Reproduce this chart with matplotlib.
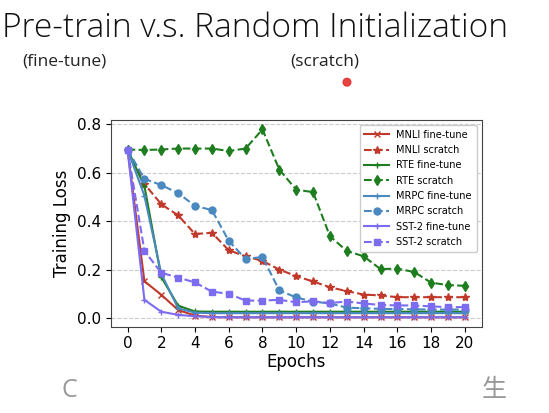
import matplotlib
matplotlib.use("Agg")
import matplotlib.pyplot as plt
from matplotlib.patches import Ellipse

epochs = list(range(21))

mnli_ft = [0.696, 0.152, 0.096, 0.033, 0.010, 0.004, 0.003, 0.003, 0.003, 0.003, 0.003,
           0.003, 0.003, 0.003, 0.003, 0.003, 0.003, 0.003, 0.003, 0.003, 0.003]
mnli_sc = [0.696, 0.554, 0.470, 0.424, 0.347, 0.352, 0.280, 0.255, 0.236, 0.200, 0.173,
           0.151, 0.127, 0.111, 0.097, 0.093, 0.086, 0.086, 0.086, 0.086, 0.086]
rte_ft = [0.696, 0.545, 0.169, 0.051, 0.027, 0.026, 0.026, 0.026, 0.026, 0.026, 0.026,
          0.026, 0.026, 0.026, 0.026, 0.026, 0.026, 0.026, 0.026, 0.026, 0.026]
rte_sc = [0.696, 0.694, 0.696, 0.700, 0.700, 0.700, 0.690, 0.700, 0.779, 0.613, 0.530,
          0.520, 0.338, 0.277, 0.255, 0.202, 0.204, 0.190, 0.146, 0.136, 0.133]
mrpc_ft = [0.696, 0.505, 0.183, 0.040, 0.022, 0.020, 0.020, 0.020, 0.020, 0.020, 0.020,
           0.020, 0.020, 0.020, 0.020, 0.020, 0.020, 0.020, 0.020, 0.020, 0.020]
mrpc_sc = [0.696, 0.575, 0.549, 0.516, 0.463, 0.446, 0.319, 0.244, 0.252, 0.114, 0.085,
           0.068, 0.060, 0.043, 0.040, 0.038, 0.037, 0.036, 0.035, 0.035, 0.035]
sst_ft = [0.696, 0.075, 0.026, 0.013, 0.007, 0.004, 0.003, 0.003, 0.003, 0.003, 0.003,
          0.003, 0.003, 0.003, 0.003, 0.003, 0.003, 0.003, 0.003, 0.003, 0.003]
sst_sc = [0.696, 0.277, 0.187, 0.167, 0.147, 0.109, 0.100, 0.072, 0.072, 0.075, 0.065,
          0.069, 0.062, 0.068, 0.060, 0.054, 0.052, 0.052, 0.048, 0.045, 0.045]

red = "#c0392b"
green = "#1e7d1e"
blue = "#4a88c0"
purple = "#7b6cf0"

fig = plt.figure(figsize=(5.49, 4.13), dpi=100)
fig.patch.set_facecolor("white")
ax = fig.add_axes([0.2016, 0.209, 0.6758, 0.5004])

ax.plot(epochs, mnli_ft, color=red, ls="-", marker="x", ms=4, lw=1.5, label="MNLI fine-tune")
ax.plot(epochs, mnli_sc, color=red, ls="--", marker="*", ms=6, lw=1.5, label="MNLI scratch")
ax.plot(epochs, rte_ft, color=green, ls="-", marker="+", ms=5, lw=1.5, label="RTE fine-tune")
ax.plot(epochs, rte_sc, color=green, ls="--", marker="d", ms=5, lw=1.5, label="RTE scratch")
ax.plot(epochs, mrpc_ft, color=blue, ls="-", marker="+", ms=5, lw=1.5, label="MRPC fine-tune")
ax.plot(epochs, mrpc_sc, color=blue, ls="--", marker="o", ms=5, lw=1.5, label="MRPC scratch")
ax.plot(epochs, sst_ft, color=purple, ls="-", marker="+", ms=5, lw=1.5, label="SST-2 fine-tune")
ax.plot(epochs, sst_sc, color=purple, ls="--", marker="s", ms=5, lw=1.5, label="SST-2 scratch")

ax.set_xticks(range(0, 21, 2))
ax.set_yticks([0.0, 0.2, 0.4, 0.6, 0.8])
ax.tick_params(labelsize=11)
ax.yaxis.grid(True, ls="--", color="#cccccc", lw=0.8)
ax.set_axisbelow(True)
ax.set_xlabel("Epochs", fontsize=12, labelpad=1)
ax.set_ylabel("Training Loss", fontsize=12)
for s in ax.spines.values():
    s.set_color("#444444")
ax.legend(loc="upper right", fontsize=7, handlelength=2.5, labelspacing=0.55,
          borderpad=0.5, framealpha=1)

fig.text(0.004, 0.932, "Pre-train v.s. Random Initialization", fontsize=24,
         family="Open Sans", weight="light", color="#111111", va="center", ha="left")
fig.text(0.04, 0.85, "(fine-tune)", fontsize=12.5, family="Open Sans", color="#222222",
         va="center", ha="left")
fig.text(0.528, 0.85, "(scratch)", fontsize=12.5, family="Open Sans", color="#222222",
         va="center", ha="left")
fig.patches.append(Ellipse((0.632, 0.801), 0.014, 0.0186, color="#e53030", alpha=0.9,
                           transform=fig.transFigure, figure=fig))
fig.text(0.112, 0.055, "C", fontsize=18, family="Open Sans", color="#999999",
         va="center", ha="left")
fig.text(0.877, 0.055, "生", fontsize=18, family=["Noto Sans CJK SC", "DejaVu Sans"],
         color="#999999", va="center", ha="left")

fig.savefig("out.png", dpi=100, facecolor="white")
